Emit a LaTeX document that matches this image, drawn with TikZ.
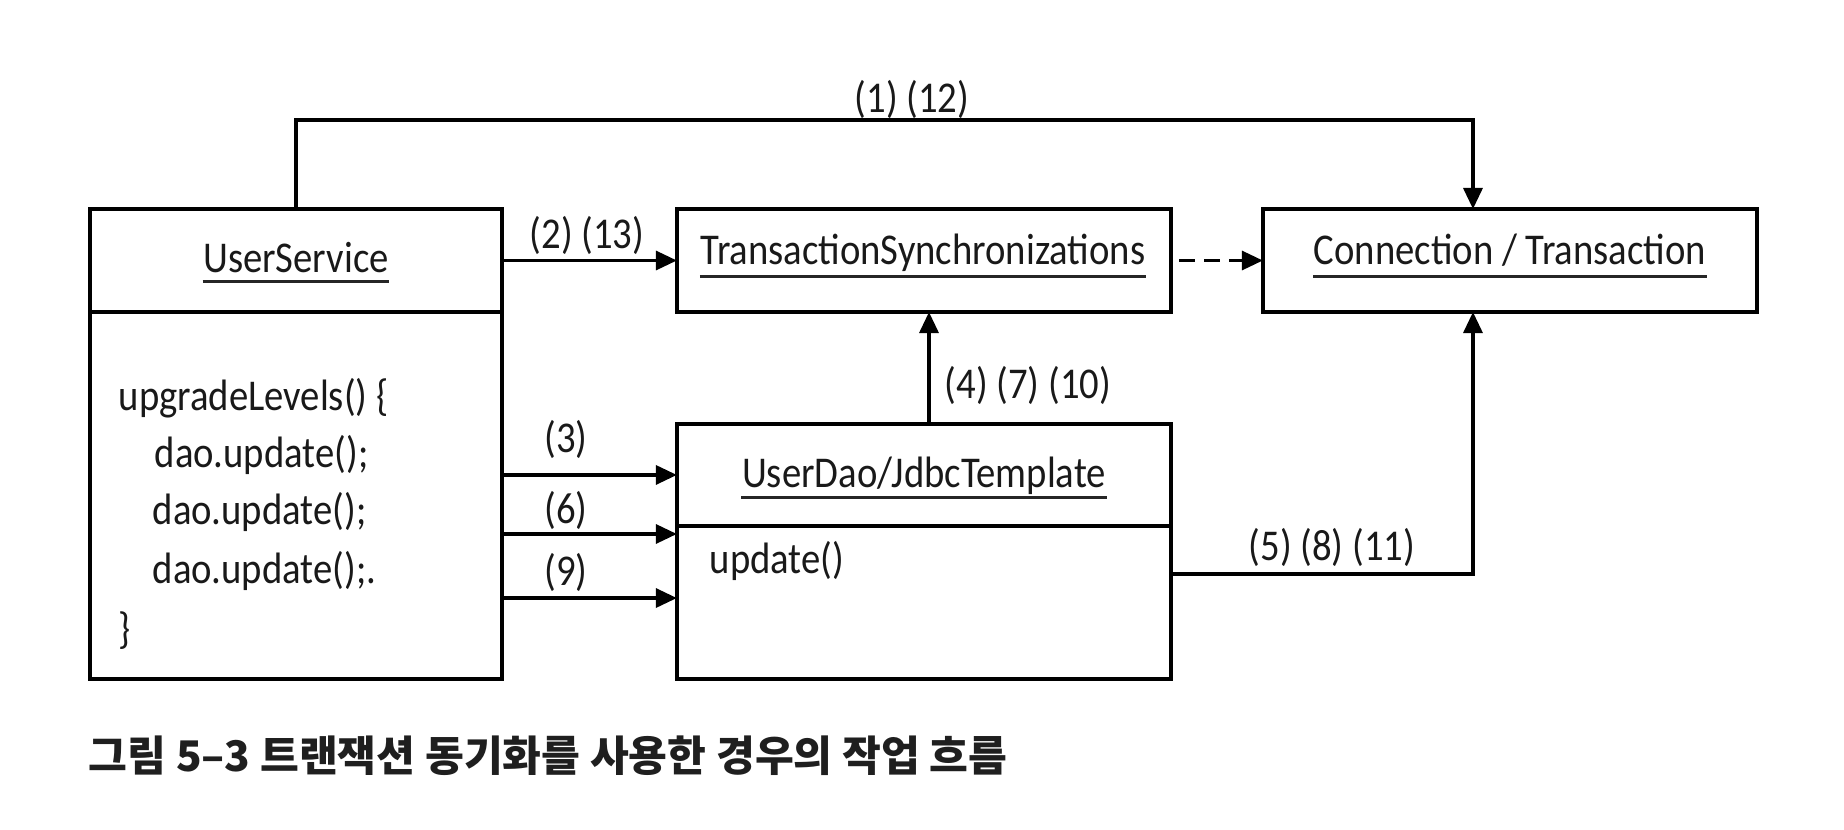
\documentclass[tikz,border=0pt]{standalone}
\usepackage{fontspec}
\setmainfont{Carlito}[FakeStretch=0.88]
\newfontfamily\krfont{Noto Sans CJK KR}
\usetikzlibrary{arrows.meta}
\newcommand\dgfont{\fontsize{12.5pt}{14pt}\selectfont}
\newcommand\capfont{\krfont\bfseries\fontsize{12pt}{14pt}\selectfont}
\begin{document}
\begin{tikzpicture}[x=0.01cm,y=-0.01cm,
  box/.style={draw, line width=1pt, inner sep=0pt, outer sep=0pt},
  ttl/.style={inner sep=0pt, anchor=base, font=\dgfont, text=black!90},
  lbl/.style={inner sep=0pt, anchor=base, font=\dgfont, text=black!90},
  codeln/.style={inner sep=0pt, anchor=base west, font=\dgfont, text=black!90},
  uline/.style={line width=0.85pt, black!85},
  arr/.style={line width=0.95pt, -{Triangle[length=0.21cm,width=0.19cm]}},
  divl/.style={line width=1pt}]
\useasboundingbox (0,0) rectangle (1844,830);
% boxes
\node[box, minimum width=4.12cm, minimum height=4.70cm] (us) at (296,444) {};
\node[box, minimum width=4.94cm, minimum height=1.03cm] (ts) at (924,260.5) {};
\node[box, minimum width=4.94cm, minimum height=1.03cm] (ct) at (1510,260.5) {};
\node[box, minimum width=4.94cm, minimum height=2.55cm] (ud) at (924,551.5) {};
\draw[divl] ([yshift=-1.03cm]us.north west) -- ([yshift=-1.03cm]us.north east);
\draw[divl] ([yshift=-1.02cm]ud.north west) -- ([yshift=-1.02cm]ud.north east);
% titles
\node[ttl] (usT) at (296,272) {UserService};
\draw[uline] ([yshift=-0.09cm]usT.base west) -- ([yshift=-0.09cm]usT.base east);
\node[ttl] (tsT) at (923,264) {TransactionSynchronizations};
\draw[uline] ([yshift=-0.12cm]tsT.base west) -- ([yshift=-0.12cm]tsT.base east);
\node[ttl] (ctT) at (1510,264) {Connection / Transaction};
\draw[uline] ([yshift=-0.12cm]ctT.base west) -- ([yshift=-0.12cm]ctT.base east);
\node[ttl] (udT) at (924,487) {UserDao/JdbcTemplate};
\draw[uline] ([yshift=-0.10cm]udT.base west) -- ([yshift=-0.10cm]udT.base east);
% body texts
\node[codeln] (upd) at (709,573) {update()};
\node[codeln] (c1) at (118,410) {upgradeLevels() \{};
\node[codeln] (c2) at (154,467) {dao.update();};
\node[codeln] (c3) at (152,524) {dao.update();};
\node[codeln] (c4) at (152,583) {dao.update();.};
\node[codeln] (c5) at (118,643) {\}};
% connectors
\coordinate (topy) at (900,120);
\coordinate (a3) at ([yshift=0.765cm]ud.west);
\coordinate (a6) at ([yshift=0.175cm]ud.west);
\coordinate (a9) at ([yshift=-0.465cm]ud.west);
\draw[arr] (us.north) -- (us.north |- topy) -| ([xshift=-0.37cm]ct.north);
\draw[arr] (ts.west -| us.east) -- (ts.west);
\draw[arr, dash pattern=on 0.16cm off 0.09cm] ([xshift=0.08cm]ts.east) -- (ct.west);
\draw[arr] ([xshift=0.05cm]ud.north) -- ([xshift=0.05cm]ts.south);
\draw[arr] (us.east |- a3) -- (a3);
\draw[arr] (us.east |- a6) -- (a6);
\draw[arr] (us.east |- a9) -- (a9);
\draw[arr] ([yshift=-0.225cm]ud.east) -| ([xshift=-0.37cm]ct.south);
% labels
\node[lbl] (l1) at (912,112) {(1) (12)};
\node[lbl] (l2) at (587,248) {(2) (13)};
\node[lbl] (l3) at (566,452) {(3)};
\node[lbl] (l6) at (566,523) {(6)};
\node[lbl] (l9) at (566,585) {(9)};
\node[lbl] (l4) at (1028,398) {(4) (7) (10)};
\node[lbl] (l5) at (1332,560) {(5) (8) (11)};
% caption
\node[inner sep=0pt, anchor=base west, font=\capfont, text=black!88] (cap) at (88,771) {그림 5–3 트랜잭션 동기화를 사용한 경우의 작업 흐름};
\end{tikzpicture}
\end{document}
